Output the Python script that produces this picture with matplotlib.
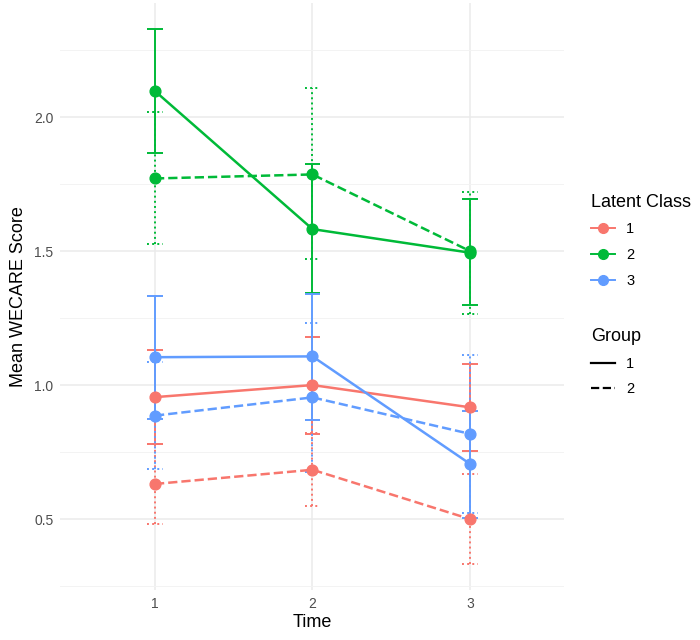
import matplotlib.pyplot as plt
from matplotlib.lines import Line2D

plt.rcParams["font.family"] = ["Liberation Sans", "DejaVu Sans"]

# Time points
times = [1, 2, 3]

# Class colours (ggplot default hue)
class_colors = {"1": "#F8766D", "2": "#00BA38", "3": "#619CFF"}

# Mean scores with error bar limits, per latent class and group
c1_g1_mean = [0.955, 1.00, 0.917]
c1_g1_low = [0.78, 0.818, 0.755]
c1_g1_high = [1.13, 1.18, 1.08]

c1_g2_mean = [0.631, 0.684, 0.50]
c1_g2_low = [0.48, 0.549, 0.331]
c1_g2_high = [0.78, 0.82, 0.669]

c2_g1_mean = [2.097, 1.582, 1.494]
c2_g1_low = [1.865, 1.344, 1.30]
c2_g1_high = [2.327, 1.824, 1.696]

c2_g2_mean = [1.771, 1.786, 1.50]
c2_g2_low = [1.527, 1.47, 1.265]
c2_g2_high = [2.02, 2.109, 1.72]

c3_g1_mean = [1.104, 1.107, 0.706]
c3_g1_low = [0.875, 0.868, 0.504]
c3_g1_high = [1.333, 1.34, 0.905]

c3_g2_mean = [0.886, 0.954, 0.818]
c3_g2_low = [0.687, 0.677, 0.523]
c3_g2_high = [1.086, 1.231, 1.111]

series = [
    ("1", "1", c1_g1_mean, c1_g1_low, c1_g1_high),
    ("1", "2", c1_g2_mean, c1_g2_low, c1_g2_high),
    ("2", "1", c2_g1_mean, c2_g1_low, c2_g1_high),
    ("2", "2", c2_g2_mean, c2_g2_low, c2_g2_high),
    ("3", "1", c3_g1_mean, c3_g1_low, c3_g1_high),
    ("3", "2", c3_g2_mean, c3_g2_low, c3_g2_high),
]

cap_half = 0.05

fig = plt.figure(figsize=(7, 6.4), dpi=100)
ax = fig.add_axes([0.0864, 0.078, 0.72, 0.917])

for cls, grp, mean, low, high in series:
    col = class_colors[cls]
    err_style = "solid" if grp == "1" else "dotted"
    line_style = "-" if grp == "1" else "--"
    # error bars: vertical whisker plus caps
    ax.vlines(times, low, high, colors=col, linestyles=err_style, linewidth=1.4, zorder=2)
    xmin = [t - cap_half for t in times]
    xmax = [t + cap_half for t in times]
    ax.hlines(low, xmin, xmax, colors=col, linestyles=err_style, linewidth=1.4, zorder=2)
    ax.hlines(high, xmin, xmax, colors=col, linestyles=err_style, linewidth=1.4, zorder=2)
    ax.plot(times, mean, color=col, linestyle=line_style, linewidth=1.8, zorder=3)
    ax.scatter(times, mean, color=col, s=60, zorder=4)

# Axes and grid styling similar to theme_minimal
ax.set_xlim(0.4, 3.6)
ax.set_ylim(0.235, 2.425)
ax.set_xticks(times)
ax.set_yticks([0.5, 1.0, 1.5, 2.0])
ax.set_yticks([0.25, 0.75, 1.25, 1.75, 2.25], minor=True)
ax.grid(True, which="major", color="#EBEBEB", linewidth=1.1)
ax.grid(True, which="minor", axis="y", color="#F3F3F3", linewidth=0.7)
ax.set_axisbelow(True)
for s in ax.spines.values():
    s.set_visible(False)
ax.tick_params(which="both", length=0, labelsize=10, labelcolor="#4D4D4D", pad=5)
ax.set_xlabel("Time", fontsize=13, labelpad=2)
ax.set_ylabel("Mean WECARE Score", fontsize=13, labelpad=5)

# Legends
class_handles = [Line2D([0], [0], color=class_colors[k], marker="o", markersize=7,
                        linewidth=1.4) for k in ["1", "2", "3"]]
leg1 = fig.legend(class_handles, ["1", "2", "3"], title="Latent Class",
                  loc="upper left", bbox_to_anchor=(0.826, 0.718), frameon=False,
                  fontsize=10.5, title_fontsize=13, handlelength=1.6,
                  alignment="left", labelspacing=0.8)
group_handles = [Line2D([0], [0], color="black", linestyle="-", linewidth=1.6),
                 Line2D([0], [0], color="black", linestyle="--", linewidth=1.6)]
leg2 = fig.legend(group_handles, ["1", "2"], title="Group",
                  loc="upper left", bbox_to_anchor=(0.826, 0.508), frameon=False,
                  fontsize=10.5, title_fontsize=13, handlelength=1.6,
                  alignment="left", labelspacing=0.8)

fig.savefig("out.png", dpi=100, facecolor="white")
